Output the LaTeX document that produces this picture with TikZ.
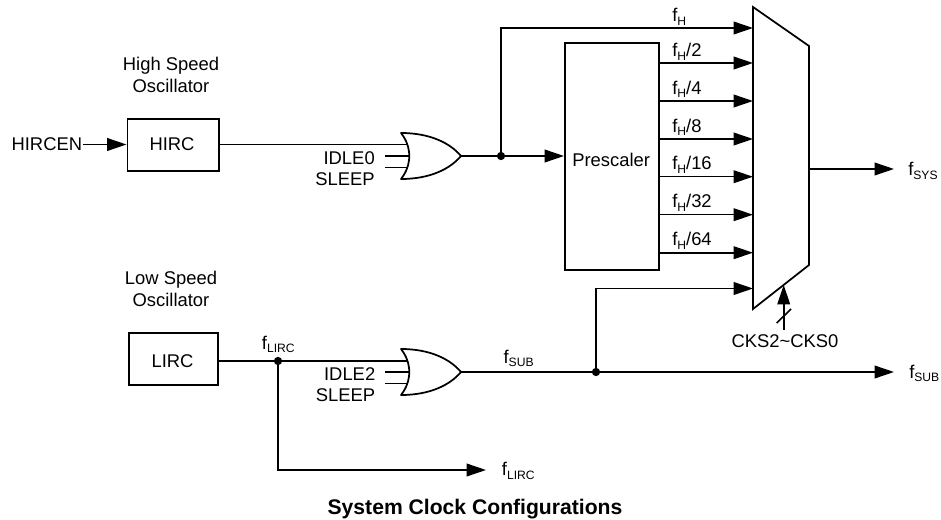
\documentclass[tikz,border=0pt]{standalone}
\usepackage{fontspec}
\setmainfont{Liberation Sans}
\usetikzlibrary{arrows.meta}
\newcommand{\fs}[1]{f\raisebox{-2.6pt}{\fontsize{9.1pt}{10pt}\selectfont #1}}
\tikzset{
  wire/.style={line width=1.2pt},
  arrowwire/.style={wire,-{Triangle[length=14.5pt,width=9.5pt]}},
  blockbox/.style={draw,line width=1.3pt,inner sep=0pt,minimum width=0pt,fill=white},
  txt/.style={inner sep=0pt,font=\fontsize{13.8pt}{16pt}\selectfont},
  dotnode/.style={circle,fill=black,inner sep=0pt,minimum size=6.2pt},
  gate/.style={line width=1.3pt,line join=round,fill=white},
}
\begin{document}
\begin{tikzpicture}[x=0.75pt,y=-0.75pt]
\useasboundingbox (0,0) rectangle (941,520);
% boxes
\node[blockbox,anchor=north west,minimum width=68.6pt,minimum height=39pt] (hirc) at (126.5,118) {};
\node[blockbox,anchor=north west,minimum width=66.9pt,minimum height=39pt] (lirc) at (128,332) {};
\node[blockbox,anchor=north west,minimum width=70.6pt,minimum height=170.2pt] (presc) at (564,42.5) {};
% coordinates
\coordinate (hircen) at (83,144.5);
\coordinate (g1a) at (407,144.5);
\coordinate (g1b) at (409,156);
\coordinate (g1c) at (409,167.5);
\coordinate (g1bs) at (385,156);
\coordinate (g1cs) at (385,167.5);
\coordinate (g1o) at (461,156);
\coordinate (g2a) at (407,361);
\coordinate (g2b) at (409,372);
\coordinate (g2c) at (409,383.5);
\coordinate (g2bs) at (385,372);
\coordinate (g2cs) at (385,383.5);
\coordinate (g2o) at (461,372);
\coordinate (m0) at (753,28);
\coordinate (m1) at (753,63);
\coordinate (m2) at (753,101);
\coordinate (m3) at (753,139);
\coordinate (m4) at (753,176.7);
\coordinate (m5) at (753,214.7);
\coordinate (m6) at (753,252.7);
\coordinate (m7) at (753,288.5);
\coordinate (mo) at (809,169);
\coordinate (sysend) at (894,169);
\coordinate (subend) at (894,372);
\coordinate (lircend) at (486,470);
\coordinate (cksb) at (783.7,330);
\coordinate (cksa) at (783.7,285);
\coordinate (sl1) at (776.7,323);
\coordinate (sl2) at (791,309);
\node[dotnode] (d1) at (501,156) {};
\node[dotnode] (d2) at (596,372) {};
\node[dotnode] (d3) at (278,361) {};
% connectors
\draw[arrowwire] (hircen) -- (hirc.west |- hircen);
\draw[wire] (hirc.east |- g1a) -- (g1a);
\draw[wire] (g1bs) -- (g1b);
\draw[wire] (g1cs) -- (g1c);
\draw[wire] (g1o) -- (d1);
\draw[arrowwire] (d1) -- (presc.west |- d1);
\draw[arrowwire] (d1) |- (m0);
\foreach \i in {1,...,6}{\draw[arrowwire] (presc.east |- m\i) -- (m\i);}
\draw[arrowwire] (d2) |- (m7);
\draw[wire] (g2o) -- (d2);
\draw[arrowwire] (d2) -- (subend);
\draw[wire] (lirc.east |- d3) -- (d3);
\draw[wire] (d3) -- (g2a);
\draw[wire] (g2bs) -- (g2b);
\draw[wire] (g2cs) -- (g2c);
\draw[arrowwire] (d3) |- (lircend);
\draw[arrowwire] (mo) -- (sysend);
\draw[arrowwire] (cksb) -- (cksa);
\draw[wire] (sl1) -- (sl2);
% gates
\draw[gate] (401,133) .. controls (430,133) and (450,143) .. (g1o) .. controls (450,169) and (430,179) .. (401,179) .. controls (412,165) and (412,147) .. cycle;
\draw[gate] (401,349) .. controls (430,349) and (450,359) .. (g2o) .. controls (450,385) and (430,395) .. (401,395) .. controls (412,381) and (412,363) .. cycle;
% mux
\draw[line width=1.3pt,line join=miter] (753,7) -- (809,46) -- (809,265) -- (753,309) -- cycle;
% text
\node[txt,anchor=base] (t1) at (171,70.5) {High Speed};
\node[txt,anchor=base] (t2) at (171,92.5) {Oscillator};
\node[txt,anchor=base] (t3) at (171,284.5) {Low Speed};
\node[txt,anchor=base] (t4) at (171,306) {Oscillator};
\node[txt,anchor=base] (t5) at (172,150.5) {HIRC};
\node[txt,anchor=base] (t6) at (172.5,367) {LIRC};
\node[txt,anchor=base west] (t7) at (11.3,150.5) {HIRCEN};
\node[txt,anchor=base east] (t8) at (375,165) {IDLE0};
\node[txt,anchor=base east] (t9) at (375,186) {SLEEP};
\node[txt,anchor=base east] (t10) at (375.5,380) {IDLE2};
\node[txt,anchor=base east] (t11) at (375.5,401) {SLEEP};
\node[txt,anchor=base west] (t12) at (572,166.7) {Prescaler};
\node[txt,anchor=base west] (l0) at (672,22) {\fs{H}};
\node[txt,anchor=base west] (l1) at (672,56.7) {\fs{H}/2};
\node[txt,anchor=base west] (l2) at (672,94.3) {\fs{H}/4};
\node[txt,anchor=base west] (l3) at (672,132.3) {\fs{H}/8};
\node[txt,anchor=base west] (l4) at (672,170) {\fs{H}/16};
\node[txt,anchor=base west] (l5) at (672,208) {\fs{H}/32};
\node[txt,anchor=base west] (l6) at (672,245.7) {\fs{H}/64};
\node[txt,anchor=base west] (l7) at (908,175.7) {\fs{SYS}};
\node[txt,anchor=base west] (l8) at (909,378.3) {\fs{SUB}};
\node[txt,anchor=base west] (l9) at (501.7,475.7) {\fs{LIRC}};
\node[txt,anchor=base west] (l10) at (261.7,349.3) {\fs{LIRC}};
\node[txt,anchor=base west] (l11) at (503.3,363.3) {\fs{SUB}};
\node[txt,anchor=base] (l12) at (785,347) {CKS2\char`\~CKS0};
\node[txt,anchor=base,font=\fontsize{15.85pt}{18pt}\selectfont\bfseries] (cap) at (475,514) {System Clock Configurations};
\end{tikzpicture}
\end{document}
